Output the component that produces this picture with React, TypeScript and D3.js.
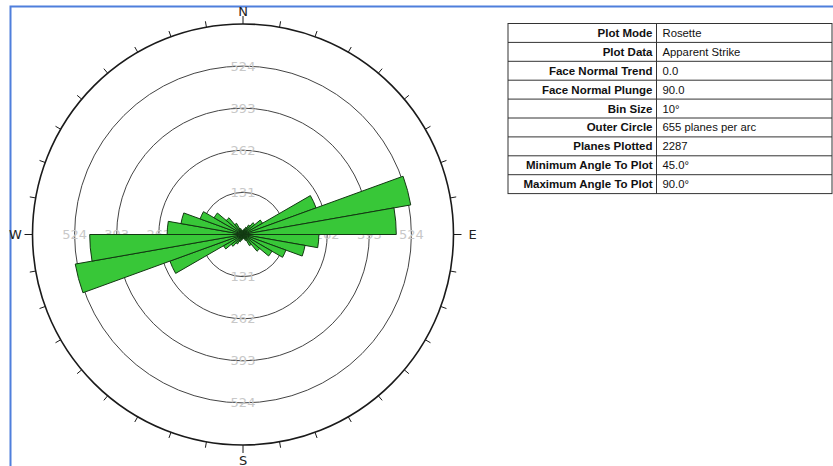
import React from "react";
import * as d3 from "d3";

// Rosette: apparent strike counts per 10° bin (0–180°), mirrored to 180–360°
const binStarts = [0, 10, 20, 30, 40, 50, 60, 70, 80, 90, 100, 110, 120, 130, 140, 150, 160, 170];
const binCounts = [14, 18, 24, 34, 48, 70, 242, 530, 477, 236, 196, 142, 104, 68, 40, 20, 14, 10];
const binSize = 10;
const outerValue = 655;
const ringValues = [131, 262, 393, 524];
const cardinals = [
  { label: "N", az: 0 },
  { label: "E", az: 90 },
  { label: "S", az: 180 },
  { label: "W", az: 270 },
];

const tableLabels = [
  "Plot Mode",
  "Plot Data",
  "Face Normal Trend",
  "Face Normal Plunge",
  "Bin Size",
  "Outer Circle",
  "Planes Plotted",
  "Minimum Angle To Plot",
  "Maximum Angle To Plot",
];
const tableValues = [
  "Rosette",
  "Apparent Strike",
  "0.0",
  "90.0",
  "10°",
  "655 planes per arc",
  "2287",
  "45.0°",
  "90.0°",
];

const W = 833;
const H = 466;
const cx = 243;
const cy = 234.5;
const R = 210.5;

export default function App() {
  const r = d3.scaleLinear().domain([0, outerValue]).range([0, R]);
  const toRad = (deg: number) => (deg * Math.PI) / 180;

  const petals = binStarts.flatMap((s, i) => [
    { start: s, value: binCounts[i] },
    { start: s + 180, value: binCounts[i] },
  ]);

  const arc = d3
    .arc<{ start: number; value: number }>()
    .innerRadius(0)
    .outerRadius((d) => r(d.value))
    .startAngle((d) => toRad(d.start))
    .endAngle((d) => toRad(d.start + binSize));

  const ticks = d3.range(0, 360, 10);

  // table geometry
  const tx0 = 508;
  const tx1 = 656.5;
  const tx2 = 832;
  const ty0 = 23.5;
  const rowH = 18.9;
  const rows = d3.range(tableLabels.length);
  const rowY = d3
    .scaleLinear()
    .domain([0, tableLabels.length])
    .range([ty0, ty0 + rowH * tableLabels.length]);

  const ringLabelFont = "'DejaVu Sans', Verdana, sans-serif";
  const tableFont = "'Liberation Sans', Arial, sans-serif";

  return (
    <svg
      width={W}
      height={H}
      style={{ position: "absolute", left: 0, top: 0, background: "#fff" }}
    >
      <rect x={0} y={0} width={W} height={H} fill="#fff" />
      {/* frame */}
      <path
        d={`M${W + 5},6.5 H10.5 V${H + 5}`}
        fill="none"
        stroke="#4f7fdc"
        strokeWidth={2}
      />

      <g transform={`translate(${cx},${cy})`}>
        {/* rings */}
        {ringValues.map((v) => (
          <circle key={v} r={r(v)} fill="none" stroke="#444" strokeWidth={1} />
        ))}
        {/* ring labels on the four axes */}
        {ringValues.flatMap((v) =>
          [
            [0, -r(v)],
            [0, r(v)],
            [-r(v), 0],
            [r(v), 0],
          ].map(([x, y], k) => (
            <text
              key={`${v}-${k}`}
              x={x}
              y={y}
              textAnchor="middle"
              dominantBaseline="central"
              fontFamily={ringLabelFont}
              fontSize={13}
              fill="#c8c8c8"
            >
              {v}
            </text>
          ))
        )}
        {/* petals */}
        {petals.map((p, i) => (
          <path
            key={i}
            d={arc(p) || ""}
            fill="#38c738"
            stroke="#123812"
            strokeWidth={1}
            strokeLinejoin="round"
          />
        ))}
        {/* outer circle */}
        <circle r={R} fill="none" stroke="#1a1a1a" strokeWidth={1.6} />
        {ticks.map((a) => {
          const len = a % 90 === 0 ? 8 : 6;
          const s = Math.sin(toRad(a));
          const c = -Math.cos(toRad(a));
          return (
            <line
              key={a}
              x1={s * R}
              y1={c * R}
              x2={s * (R + len)}
              y2={c * (R + len)}
              stroke="#1a1a1a"
              strokeWidth={1}
            />
          );
        })}
        {cardinals.map((cd) => {
          const d = R + 17;
          const s = Math.sin(toRad(cd.az));
          const c = -Math.cos(toRad(cd.az));
          return (
            <text
              key={cd.label}
              x={s * d + (cd.az === 90 ? 2 : 0)}
              y={c * d + (cd.az === 0 ? 4 : cd.az === 180 ? -2 : 0)}
              textAnchor="middle"
              dominantBaseline="central"
              fontFamily={ringLabelFont}
              fontSize={13}
              fill="#222"
            >
              {cd.label}
            </text>
          );
        })}
      </g>

      {/* info table */}
      <g>
        <rect
          x={tx0}
          y={ty0}
          width={tx2 - tx0}
          height={rowY(tableLabels.length) - ty0}
          fill="#fff"
          stroke="#333"
          strokeWidth={1}
        />
        {rows.slice(1).map((i) => (
          <line
            key={i}
            x1={tx0}
            x2={tx2}
            y1={rowY(i)}
            y2={rowY(i)}
            stroke="#333"
            strokeWidth={1}
          />
        ))}
        <line x1={tx1} x2={tx1} y1={ty0} y2={rowY(tableLabels.length)} stroke="#333" strokeWidth={1} />
        {rows.map((i) => (
          <g key={i}>
            <text
              x={tx1 - 4}
              y={rowY(i) + rowH / 2}
              textAnchor="end"
              dominantBaseline="central"
              fontFamily={tableFont}
              fontWeight="bold"
              fontSize={11.5}
              fill="#111"
            >
              {tableLabels[i]}
            </text>
            <text
              x={tx1 + 6}
              y={rowY(i) + rowH / 2}
              dominantBaseline="central"
              fontFamily={tableFont}
              fontSize={11.3}
              fill="#111"
            >
              {tableValues[i]}
            </text>
          </g>
        ))}
      </g>
    </svg>
  );
}
